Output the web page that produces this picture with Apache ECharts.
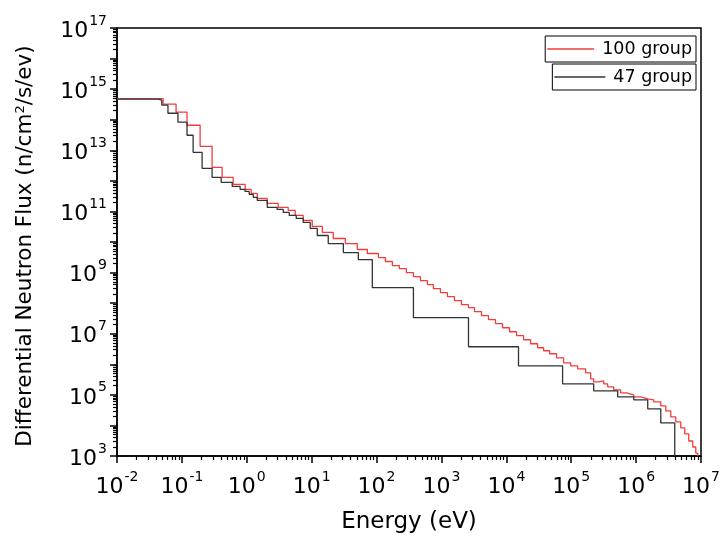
<!DOCTYPE html>
<html>
<head>
<meta charset="utf-8">
<script src="https://cdn.jsdelivr.net/npm/echarts@6/dist/echarts.min.js"></script>
<style>html,body{margin:0;padding:0;background:#fff;}#c{width:726px;height:544px;}</style>
</head>
<body>
<div id="c"></div>
<script>
// ---- data ----
// 100-group structure: energy boundaries (eV) and differential flux per group
const red100Edges = [0.01, 0.0513, 0.0814, 0.12, 0.191, 0.292, 0.417, 0.617, 0.945,
  1.17, 1.45, 2.06, 3.05, 4.35, 5.58, 7.42, 10.2, 14.6, 21.5,
  33.0, 50.5, 72.1, 107, 137, 175, 225, 288, 370, 474, 608, 752, 965, 1237, 1587, 2035, 2610,
  3231, 4143, 5313, 6813, 8737, 11205, 14370, 18420, 23630, 30300, 37510, 46420,
  59530, 76340, 97880, 1.256e5, 1.668e5, 1.993e5, 2.217e5, 2.647e5, 3.162e5, 3.646e5,
  4.511e5, 5.785e5, 7.16e5, 9.18e5, 1.178e6, 1.51e6, 1.869e6, 2.396e6, 2.863e6, 3.42e6,
  4.085e6, 4.88e6, 5.62e6, 6.48e6, 7.47e6, 8.31e6, 8.93e6];
const red100Flux = [4.9e14, 3.22e14, 1.76e14, 6.6e13, 1.35e13, 2.77e12, 1.30e12, 7.7e11,
  5.26e11, 3.89e11, 2.67e11, 1.83e11, 1.35e11, 1.08e11, 7.4e10, 5.07e10, 3.22e10, 2.05e10,
  1.30e10, 8.9e9, 5.68e9, 4.20e9, 3.10e9, 2.30e9, 1.70e9, 1.35e9, 1.0e9, 7.4e8, 5.47e8, 4.05e8,
  2.99e8, 2.21e8, 1.63e8, 1.21e8, 8.9e7, 7.1e7, 5.26e7, 3.89e7, 2.88e7, 2.13e7, 1.57e7, 1.16e7,
  8.6e6, 6.35e6, 4.70e6, 3.47e6, 2.77e6,
  2.21e6, 1.63e6, 1.12e6, 8.9e5, 7.1e5, 5.26e5, 3.35e5, 2.67e5, 2.88e5, 2.30e5, 1.83e5, 1.46e5,
  1.16e5, 1.0e5, 8.6e4, 7.4e4, 6.86e4, 5.9e4, 4.36e4, 2.99e4, 1.90e4, 1.30e4, 8.3e3, 5.26e3,
  3.10e3, 1.97e3, 1.25e3];

// 47-group structure
const black47Edges = [0.01, 0.043, 0.049, 0.061, 0.087, 0.12, 0.149, 0.205, 0.292, 0.403,
  0.596, 0.79, 0.94, 1.09, 1.26, 1.45, 2.07, 2.94, 3.65, 4.51, 5.78, 7.41, 9.5, 12.2, 18.0,
  30.8, 52.4, 86, 370, 2610, 15400, 73600, 2.22e5, 5.2e5, 9.2e5, 1.51e6, 2.40e6, 3.94e6];
const black47Flux = [4.7e14, 4.36e14, 2.99e14, 1.63e14, 8.3e13, 3.1e13, 8.6e12, 2.57e12,
  1.30e12, 8.9e11, 6.6e11, 5.3e11, 4.5e11, 3.6e11, 2.88e11, 2.30e11, 1.35e11, 1.16e11, 9.3e10,
  7.4e10, 5.9e10, 4.36e10, 2.77e10, 1.63e10, 8.9e9, 4.5e9, 2.67e9, 3.2e8, 3.35e7, 3.75e6,
  8.9e5, 2.30e5, 1.35e5, 8.6e4, 6.9e4, 3.5e4, 1.21e4];

const seriesNames = ['100 group', '47 group'];

// axis ticks
const xTickValues = [1e-2, 1e-1, 1e0, 1e1, 1e2, 1e3, 1e4, 1e5, 1e6, 1e7];
const xTickExps   = ['-2', '-1', '0', '1', '2', '3', '4', '5', '6', '7'];
const yTickValues = [1e3, 1e5, 1e7, 1e9, 1e11, 1e13, 1e15, 1e17];
const yTickExps   = ['3', '5', '7', '9', '11', '13', '15', '17'];
const yDecades = [1e3,1e4,1e5,1e6,1e7,1e8,1e9,1e10,1e11,1e12,1e13,1e14,1e15,1e16,1e17];

// ---- build ----
const X_MIN = 1e-2, X_MAX = 1e7, Y_MIN = 1e3, Y_MAX = 1e17;

function stepPoints(edges, flux, dropTo) {
  const pts = [];
  for (let i = 0; i < flux.length; i++) {
    pts.push([edges[i], flux[i]]);
    pts.push([edges[i + 1], flux[i]]);
  }
  if (dropTo != null) pts.push([edges[flux.length], dropTo]);
  return pts;
}
function minorTicks(lo, hi) {
  const out = [];
  for (let d = lo; d < hi; d *= 10) {
    for (let k = 2; k <= 9; k++) out.push(Number((d * k).toPrecision(3)));
  }
  return out;
}
function labelFor(values, exps) {
  return function (v) {
    let best = 0, bd = Infinity;
    for (let i = 0; i < values.length; i++) {
      const d = Math.abs(Math.log10(v) - Math.log10(values[i]));
      if (d < bd) { bd = d; best = i; }
    }
    return '{b|10}{s|' + exps[best] + '}';
  };
}

const FONT = 'DejaVu Sans';
const rich = {
  b: { fontSize: 22, lineHeight: 28, fontFamily: FONT, color: '#000', verticalAlign: 'bottom' },
  s: { fontSize: 14, lineHeight: 14, fontFamily: FONT, color: '#000', verticalAlign: 'top', padding: [0, 0, 0, 1] }
};

const chart = echarts.init(document.getElementById('c'), null, { renderer: 'canvas' });
chart.setOption({
  animation: false,
  backgroundColor: '#fff',
  textStyle: { fontFamily: FONT },
  grid: { left: 117, right: 25, top: 28, bottom: 88, show: true, borderColor: '#000', borderWidth: 1.5, backgroundColor: 'transparent' },
  legend: [
    { data: [seriesNames[0]], right: 30, top: 36, orient: 'vertical', icon: 'rect', itemWidth: 47, itemHeight: 1.5,
      padding: [4, 4, 4, 2], itemGap: 0, borderColor: '#000', borderWidth: 1, backgroundColor: '#fff',
      textStyle: { fontSize: 17.5, fontFamily: FONT, color: '#000', padding: [0, 0, 0, 3] } },
    { data: [seriesNames[1]], right: 30, top: 64, orient: 'vertical', icon: 'rect', itemWidth: 51, itemHeight: 1.5,
      padding: [4, 4, 4, 2], itemGap: 0, borderColor: '#000', borderWidth: 1, backgroundColor: '#fff',
      textStyle: { fontSize: 17.5, fontFamily: FONT, color: '#000', padding: [0, 0, 0, 3] } }
  ],
  xAxis: [
    { type: 'log', logBase: 10, min: X_MIN, max: X_MAX,
      name: 'Energy (eV)', nameLocation: 'middle', nameGap: 55,
      nameTextStyle: { fontSize: 23, fontFamily: FONT, color: '#000' },
      axisLine: { show: true, lineStyle: { color: '#000', width: 1.5 } },
      axisTick: { show: true, inside: false, length: 7, customValues: xTickValues, lineStyle: { color: '#000', width: 1.5 } },
      axisLabel: { show: true, customValues: xTickValues, margin: 14, formatter: labelFor(xTickValues, xTickExps), rich: rich },
      splitLine: { show: false }, minorTick: { show: false } },
    { type: 'log', logBase: 10, min: X_MIN, max: X_MAX, position: 'bottom',
      axisLine: { show: false }, axisLabel: { show: false }, splitLine: { show: false },
      axisTick: { show: true, inside: false, length: 4, customValues: minorTicks(X_MIN, X_MAX), lineStyle: { color: '#000', width: 1.2 } } }
  ],
  yAxis: [
    { type: 'log', logBase: 10, min: Y_MIN, max: Y_MAX,
      name: 'Differential Neutron Flux (n/cm{sup|2}/s/ev)', nameLocation: 'middle', nameGap: 81, nameRotate: 90,
      nameTextStyle: { fontSize: 21.5, fontFamily: FONT, color: '#000', padding: [0, 8, 0, 0],
        rich: { sup: { fontSize: 13, fontFamily: FONT, color: '#000', verticalAlign: 'top', lineHeight: 13 } } },
      axisLine: { show: true, lineStyle: { color: '#000', width: 1.5 } },
      axisTick: { show: true, inside: false, length: 7, customValues: yDecades, lineStyle: { color: '#000', width: 1.5 } },
      axisLabel: { show: true, customValues: yTickValues, margin: 10, formatter: labelFor(yTickValues, yTickExps), rich: rich },
      splitLine: { show: false }, minorTick: { show: false } },
    { type: 'log', logBase: 10, min: Y_MIN, max: Y_MAX, position: 'left',
      axisLine: { show: false }, axisLabel: { show: false }, splitLine: { show: false },
      axisTick: { show: true, inside: false, length: 4, customValues: minorTicks(Y_MIN, Y_MAX), lineStyle: { color: '#000', width: 1.2 } } }
  ],
  series: [
    { name: seriesNames[0], type: 'line', xAxisIndex: 0, yAxisIndex: 0, symbol: 'none', showSymbol: false,
      data: stepPoints(red100Edges, red100Flux, Y_MIN), z: 2,
      lineStyle: { color: '#f23d3d', width: 1.3 }, itemStyle: { color: '#f23d3d' } },
    { name: seriesNames[1], type: 'line', xAxisIndex: 0, yAxisIndex: 0, symbol: 'none', showSymbol: false,
      data: stepPoints(black47Edges, black47Flux, Y_MIN), z: 3,
      lineStyle: { color: '#333', width: 1.3 }, itemStyle: { color: '#333' } }
  ]
});
</script>
</body>
</html>
